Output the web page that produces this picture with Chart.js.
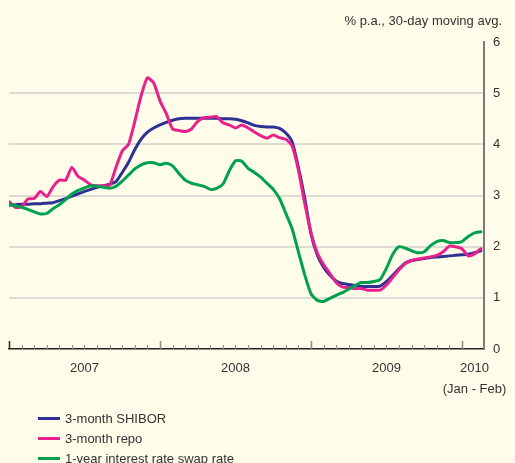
<!DOCTYPE html>
<html>
<head>
<meta charset="utf-8">
<script src="https://cdn.jsdelivr.net/npm/chart.js@4/dist/chart.umd.min.js"></script>
<style>
  html, body { margin: 0; padding: 0; background: #fffce9; }
  #wrap { position: relative; width: 515px; height: 463px; overflow: hidden; font-family: "Liberation Sans", Arial, sans-serif; color: #333; }
  #chart { position: absolute; left: 0; top: 0; }
  #unit { position: absolute; right: 13px; top: 13px; font-size: 13px; }
  #legend { position: absolute; left: 38px; top: 409px; font-size: 13px; }
  #legend div { height: 20px; line-height: 20px; white-space: nowrap; }
  #legend span { display: inline-block; width: 22px; height: 3px; vertical-align: middle; margin-right: 5px; position: relative; top: -1px; }
</style>
</head>
<body>
<div id="wrap">
  <canvas id="chart" width="515" height="463"></canvas>
  <div id="unit">% p.a., 30-day moving avg.</div>
  <div id="legend"></div>
</div>
<script>
// ==========================================
// データ (半月ごと, 2007年1月 = 0)
// ==========================================
const seriesNames = ["3-month SHIBOR", "3-month repo", "1-year interest rate swap rate"];
const seriesColors = ["#2e3192", "#e8218c", "#00a14e"];

const shibor = [
  2.81, 2.82, 2.83, 2.83, 2.84, 2.84, 2.85, 2.86, 2.90, 2.94, 2.99, 3.03,
  3.08, 3.12, 3.16, 3.19, 3.22, 3.27, 3.45, 3.65, 3.90, 4.10, 4.24, 4.32,
  4.38, 4.43, 4.47, 4.50, 4.51, 4.51, 4.51, 4.51, 4.51, 4.51, 4.50, 4.50,
  4.49, 4.46, 4.42, 4.37, 4.35, 4.34, 4.34, 4.31, 4.22, 4.05, 3.55, 2.95,
  2.25, 1.84, 1.60, 1.44, 1.33, 1.28, 1.26, 1.24, 1.22, 1.22, 1.22, 1.23,
  1.32, 1.44, 1.57, 1.68, 1.73, 1.75, 1.77, 1.79, 1.80, 1.81, 1.82, 1.83,
  1.84, 1.85, 1.88, 1.92
];
const repo = [
  2.88, 2.77, 2.78, 2.93, 2.94, 3.08, 2.98, 3.17, 3.30, 3.30, 3.55, 3.37,
  3.30, 3.21, 3.19, 3.19, 3.20, 3.55, 3.87, 4.00, 4.45, 4.95, 5.30, 5.20,
  4.85, 4.60, 4.30, 4.27, 4.25, 4.30, 4.45, 4.52, 4.53, 4.54, 4.42, 4.38,
  4.32, 4.38, 4.32, 4.24, 4.17, 4.12, 4.18, 4.13, 4.10, 3.97, 3.50, 2.85,
  2.28, 1.88, 1.65, 1.48, 1.30, 1.21, 1.20, 1.18, 1.18, 1.15, 1.15, 1.15,
  1.25, 1.40, 1.55, 1.67, 1.73, 1.76, 1.78, 1.80, 1.83, 1.90, 2.01, 2.00,
  1.96, 1.82, 1.86, 1.96
];
const swap = [
  2.83, 2.80, 2.77, 2.73, 2.68, 2.64, 2.65, 2.74, 2.82, 2.92, 3.03, 3.10,
  3.15, 3.19, 3.18, 3.16, 3.14, 3.18, 3.28, 3.40, 3.52, 3.60, 3.64, 3.64,
  3.60, 3.63, 3.58, 3.43, 3.30, 3.24, 3.21, 3.18, 3.12, 3.14, 3.22, 3.48,
  3.68, 3.67, 3.53, 3.45, 3.36, 3.24, 3.12, 2.94, 2.65, 2.35, 1.90, 1.45,
  1.08, 0.95, 0.93, 0.99, 1.05, 1.10, 1.17, 1.24, 1.30, 1.30, 1.32, 1.36,
  1.58, 1.85, 2.00, 1.97, 1.92, 1.88, 1.90, 2.02, 2.10, 2.12, 2.08, 2.08,
  2.10, 2.20, 2.27, 2.29
];

// 横軸: 月 (半月刻み)
const months = shibor.map((_, i) => i / 2);

// 年ラベル (年の中央に表示)
const yearCenters = [6, 18, 30, 37];
const yearLabels = ["2007", "2008", "2009", ["2010", "(Jan - Feb)"]];
const yTicks = [0, 1, 2, 3, 4, 5, 6];

// ==========================================
// 凡例 (HTML)
// ==========================================
const legendEl = document.getElementById("legend");
seriesNames.forEach((name, i) => {
  const row = document.createElement("div");
  row.innerHTML = `<span style="background:${seriesColors[i]}"></span>${name}`;
  legendEl.appendChild(row);
});

// 月目盛り (上向きの短い線) を描くプラグイン
const monthTicks = {
  id: "monthTicks",
  afterDatasetsDraw(chart) {
    const xs = chart.scales.x;
    const bottom = chart.chartArea.bottom;
    const c = chart.ctx;
    c.save();
    for (let m = 0; m <= 36; m++) {
      const px = Math.round(xs.getPixelForValue(m)) + 0.5;
      const major = m % 12 === 0;
      c.strokeStyle = m === 0 ? "#222" : "#8a8a84";
      c.lineWidth = major ? 1.5 : 1.2;
      c.beginPath();
      c.moveTo(px, bottom);
      c.lineTo(px, bottom - (major ? 8 : 4));
      c.stroke();
    }
    c.restore();
  }
};

const allSeries = [shibor, repo, swap];

new Chart(document.getElementById("chart"), {
  type: "line",
  data: {
    datasets: allSeries.map((vals, i) => ({
      label: seriesNames[i],
      data: vals.map((v, j) => ({ x: months[j], y: v })),
      borderColor: seriesColors[i],
      borderWidth: 3,
      pointRadius: 0,
      tension: 0.2,
      order: 2 - i,
      borderJoinStyle: "round",
      borderCapStyle: "round"
    }))
  },
  options: {
    responsive: false,
    animation: false,
    layout: { padding: { left: 9, top: 42, right: 0, bottom: 0 } },
    plugins: { legend: { display: false }, tooltip: { enabled: false } },
    scales: {
      x: {
        type: "linear",
        min: 0,
        max: 37.75,
        grid: { display: false },
        border: { display: true, color: "#222", width: 1.5 },
        afterBuildTicks: (scale) => { scale.ticks = yearCenters.map(v => ({ value: v })); },
        afterFit: (scale) => {
          scale.height = 114;
          scale.paddingLeft = 0;
          scale.paddingRight = 0;
        },
        ticks: {
          autoSkip: false,
          maxRotation: 0,
          padding: 1,
          color: "#333",
          font: { family: "Liberation Sans", size: 13, lineHeight: 1.6 },
          callback: (v) => yearLabels[yearCenters.indexOf(v)]
        }
      },
      y: {
        position: "right",
        min: 0,
        max: 6,
        afterBuildTicks: (scale) => { scale.ticks = yTicks.map(v => ({ value: v })); },
        afterFit: (scale) => { scale.width = 31; },
        grid: {
          drawTicks: false,
          color: (ctx) => (ctx.tick && ctx.tick.value > 0 && ctx.tick.value < 6) ? "#dddcd4" : "rgba(0,0,0,0)",
          lineWidth: 2
        },
        border: { display: true, color: "#7a7a76", width: 2 },
        ticks: {
          padding: 9,
          color: "#333",
          font: { family: "Liberation Sans", size: 13 }
        }
      }
    }
  },
  plugins: [monthTicks]
});
</script>
</body>
</html>
